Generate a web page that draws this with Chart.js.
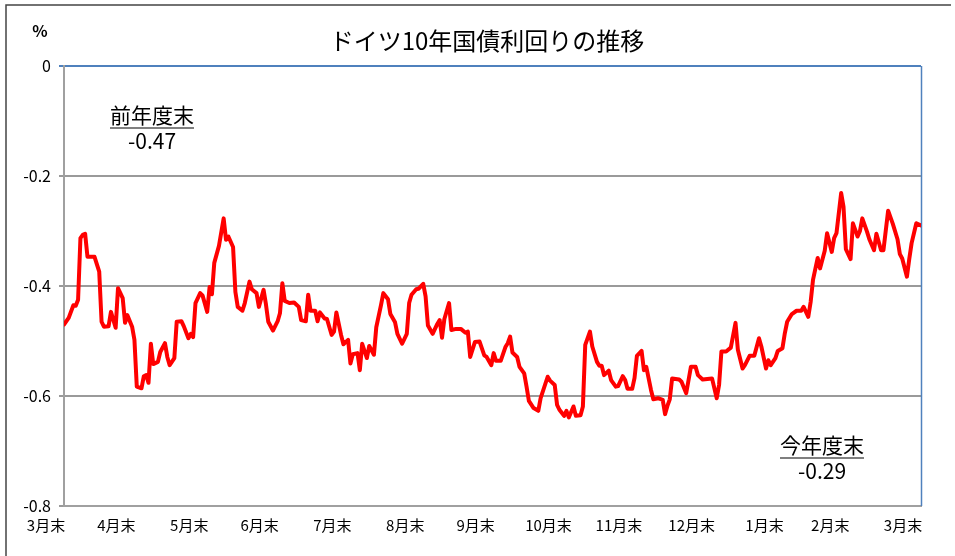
<!DOCTYPE html>
<html lang="ja">
<head>
<meta charset="utf-8">
<title>ドイツ10年国債利回りの推移</title>
<script src="https://cdn.jsdelivr.net/npm/chart.js@4.4.1/dist/chart.umd.min.js"></script>
<style>
  html, body { margin: 0; padding: 0; background: #fff; }
</style>
</head>
<body>
<canvas id="bundChart" width="955" height="556"></canvas>
<script>
// ===== ドイツ10年国債利回り =====
// days: 3月末からの経過日数, yields: 利回り(%)
const days = [
  0, 2, 4, 5, 6, 7, 8, 9, 10, 13,
  15, 16, 17, 19, 20, 22, 23, 25, 26, 27,
  29, 30, 31, 33, 34, 35, 36, 37, 38, 40,
  41, 43, 44, 45, 47, 48, 50, 51, 53, 54,
  55, 56, 58, 59, 61, 62, 63, 64, 66, 68,
  69, 70, 72, 73, 74, 76, 77, 79, 80, 82,
  83, 85, 86, 87, 89, 91, 92, 93, 94, 96,
  98, 100, 101, 103, 104, 105, 107, 108, 109, 111,
  112, 114, 115, 116, 118, 119, 121, 122, 123, 125,
  126, 127, 129, 130, 132, 133, 135, 136, 138, 139,
  141, 142, 144, 146, 147, 148, 150, 151, 153, 154,
  155, 157, 159, 160, 161, 162, 164, 165, 167, 169,
  171, 172, 173, 175, 177, 179, 180, 182, 183, 184,
  186, 188, 189, 190, 191, 193, 194, 196, 197, 198,
  200, 202, 203, 206, 207, 209, 210, 211, 213, 214,
  215, 217, 218, 220, 221, 222, 224, 225, 227, 228,
  229, 230, 232, 233, 235, 236, 238, 239, 240, 242,
  243, 244, 246, 247, 248, 249, 250, 251, 253, 255,
  256, 257, 258, 259, 262, 263, 265, 267, 269, 270,
  272, 276, 278, 279, 280, 282, 284, 286, 287, 289,
  290, 292, 294, 296, 297, 299, 300, 301, 303, 304,
  306, 307, 308, 310, 312, 314, 315, 317, 318, 319,
  321, 322, 324, 325, 327, 328, 329, 331, 332, 333,
  335, 336, 338, 339, 340, 342, 343, 345, 346, 348,
  349, 351, 353, 355, 356, 357, 359, 360, 361, 363, 365
];

const yields = [
  -0.47, -0.458, -0.435, -0.436, -0.425, -0.313, -0.307, -0.305, -0.347, -0.347,
  -0.374, -0.465, -0.474, -0.473, -0.447, -0.476, -0.404, -0.422, -0.467, -0.453,
  -0.474, -0.498, -0.583, -0.586, -0.564, -0.562, -0.576, -0.505, -0.542, -0.538,
  -0.52, -0.504, -0.529, -0.544, -0.531, -0.465, -0.464, -0.473, -0.495, -0.487,
  -0.493, -0.431, -0.413, -0.417, -0.447, -0.402, -0.415, -0.358, -0.327, -0.277,
  -0.316, -0.31, -0.329, -0.411, -0.438, -0.445, -0.431, -0.392, -0.406, -0.413,
  -0.438, -0.407, -0.433, -0.465, -0.481, -0.464, -0.449, -0.395, -0.427, -0.431,
  -0.43, -0.438, -0.462, -0.464, -0.416, -0.445, -0.445, -0.464, -0.448, -0.459,
  -0.46, -0.489, -0.483, -0.448, -0.489, -0.506, -0.498, -0.541, -0.524, -0.522,
  -0.553, -0.505, -0.531, -0.509, -0.525, -0.475, -0.435, -0.413, -0.424, -0.451,
  -0.466, -0.487, -0.505, -0.487, -0.431, -0.416, -0.406, -0.405, -0.396, -0.419,
  -0.472, -0.487, -0.469, -0.462, -0.494, -0.46, -0.431, -0.48, -0.478, -0.478,
  -0.485, -0.483, -0.529, -0.502, -0.501, -0.526, -0.529, -0.544, -0.522, -0.536,
  -0.536, -0.511, -0.504, -0.492, -0.521, -0.529, -0.547, -0.559, -0.583, -0.609,
  -0.622, -0.627, -0.604, -0.565, -0.572, -0.58, -0.616, -0.625, -0.636, -0.627,
  -0.639, -0.619, -0.636, -0.635, -0.619, -0.507, -0.483, -0.51, -0.538, -0.545,
  -0.545, -0.562, -0.554, -0.571, -0.583, -0.582, -0.564, -0.571, -0.587, -0.587,
  -0.567, -0.527, -0.518, -0.553, -0.547, -0.568, -0.589, -0.606, -0.604, -0.607,
  -0.633, -0.618, -0.606, -0.568, -0.57, -0.574, -0.595, -0.547, -0.547, -0.562,
  -0.57, -0.568, -0.604, -0.58, -0.519, -0.519, -0.512, -0.467, -0.516, -0.55,
  -0.544, -0.527, -0.527, -0.495, -0.51, -0.55, -0.535, -0.544, -0.531, -0.518,
  -0.513, -0.486, -0.465, -0.451, -0.445, -0.445, -0.438, -0.456, -0.429, -0.389,
  -0.349, -0.368, -0.336, -0.304, -0.338, -0.313, -0.304, -0.231, -0.256, -0.333,
  -0.351, -0.286, -0.31, -0.3, -0.277, -0.301, -0.315, -0.335, -0.305, -0.335,
  -0.335, -0.263, -0.287, -0.315, -0.342, -0.35, -0.383, -0.351, -0.322, -0.286, -0.29
];

const monthEndDays = [0, 30, 61, 91, 122, 153, 183, 214, 244, 275, 306, 334, 365];
const monthLabels = ['3月末', '4月末', '5月末', '6月末', '7月末', '8月末', '9月末', '10月末', '11月末', '12月末', '1月末', '2月末', '3月末'];
const yTicks = [0, -0.2, -0.4, -0.6, -0.8];

const chartTitle = 'ドイツ10年国債利回りの推移';
const unitLabel = '%';
const startNote = ['前年度末', '-0.47'];
const endNote = ['今年度末', '-0.29'];

const JP_FONT = '"Noto Sans CJK JP", "Noto Sans", sans-serif';

function drawNote(ctx, lines, cx, top) {
  ctx.font = '21px ' + JP_FONT;
  ctx.textAlign = 'center';
  ctx.textBaseline = 'middle';
  ctx.fillStyle = '#000';
  ctx.fillText(lines[0], cx, top);
  const w = ctx.measureText(lines[0]).width;
  ctx.strokeStyle = '#000';
  ctx.lineWidth = 1.2;
  ctx.beginPath();
  ctx.moveTo(cx - w / 2, top + 13);
  ctx.lineTo(cx + w / 2, top + 13);
  ctx.stroke();
  ctx.fillText(lines[1], cx, top + 26);
}

const decorPlugin = {
  id: 'decor',
  beforeDraw(chart) {
    const ctx = chart.ctx;
    ctx.save();
    ctx.fillStyle = '#fff';
    ctx.fillRect(0, 0, chart.width, chart.height);
    // outer frame (left and top edges only are visible)
    ctx.strokeStyle = '#444';
    ctx.lineWidth = 1.5;
    ctx.beginPath();
    ctx.moveTo(6, chart.height + 2);
    ctx.lineTo(6, 5);
    ctx.lineTo(951, 5);
    ctx.stroke();
    ctx.restore();
  },
  beforeDatasetsDraw(chart) {
    const { ctx, chartArea } = chart;
    ctx.save();
    ctx.strokeStyle = '#4f81bd';
    ctx.lineWidth = 1.5;
    ctx.beginPath();
    ctx.moveTo(Math.round(chartArea.right) + 0.5, chartArea.top);
    ctx.lineTo(Math.round(chartArea.right) + 0.5, chartArea.bottom);
    ctx.stroke();
    ctx.restore();
  },
  afterDraw(chart) {
    const ctx = chart.ctx;
    ctx.save();
    ctx.fillStyle = '#000';
    ctx.textAlign = 'center';
    ctx.textBaseline = 'middle';
    ctx.font = '24px ' + JP_FONT;
    ctx.fillText(chartTitle, 487, 41);
    ctx.font = 'bold 16px ' + JP_FONT;
    ctx.fillText(unitLabel, 40, 31);
    drawNote(ctx, startNote, 152, 115);
    drawNote(ctx, endNote, 822, 445);
    ctx.restore();
  }
};

new Chart(document.getElementById('bundChart'), {
  type: 'line',
  data: {
    datasets: [{
      label: 'ドイツ10年国債利回り',
      data: days.map((d, i) => ({ x: d, y: yields[i] })),
      borderColor: '#ff0000',
      borderWidth: 4,
      borderJoinStyle: 'round',
      borderCapStyle: 'round',
      pointRadius: 0,
      tension: 0,
      fill: false
    }]
  },
  options: {
    responsive: false,
    animation: false,
    devicePixelRatio: 1,
    layout: { padding: { top: 66, right: 34, bottom: 0, left: 0 } },
    plugins: { legend: { display: false }, title: { display: false }, tooltip: { enabled: false } },
    scales: {
      x: {
        type: 'linear',
        min: 0,
        max: 365,
        afterBuildTicks: scale => { scale.ticks = monthEndDays.map(v => ({ value: v })); },
        afterFit: scale => { scale.height = 50; },
        grid: { display: false, drawTicks: false },
        border: { display: true, color: '#a0a0a0', width: 2 },
        ticks: {
          autoSkip: false,
          maxRotation: 0,
          padding: 10,
          labelOffset: -18,
          color: '#000',
          font: { family: JP_FONT, size: 15 },
          callback: value => monthLabels[monthEndDays.indexOf(value)]
        }
      },
      y: {
        min: -0.8,
        max: 0,
        afterBuildTicks: scale => { scale.ticks = yTicks.map(v => ({ value: v })); },
        afterFit: scale => { scale.width = 64; },
        grid: {
          color: ctx => (ctx.tick && Math.abs(ctx.tick.value) < 1e-9) ? '#4f81bd' : '#9a9a9a',
          lineWidth: 2,
          drawTicks: true,
          tickLength: 5
        },
        border: { display: true, color: '#a0a0a0', width: 2 },
        ticks: {
          padding: 8,
          color: '#000',
          font: { family: JP_FONT, size: 16 },
          callback: value => (value === 0 ? '0' : value.toFixed(1))
        }
      }
    }
  },
  plugins: [decorPlugin]
});
</script>
</body>
</html>
